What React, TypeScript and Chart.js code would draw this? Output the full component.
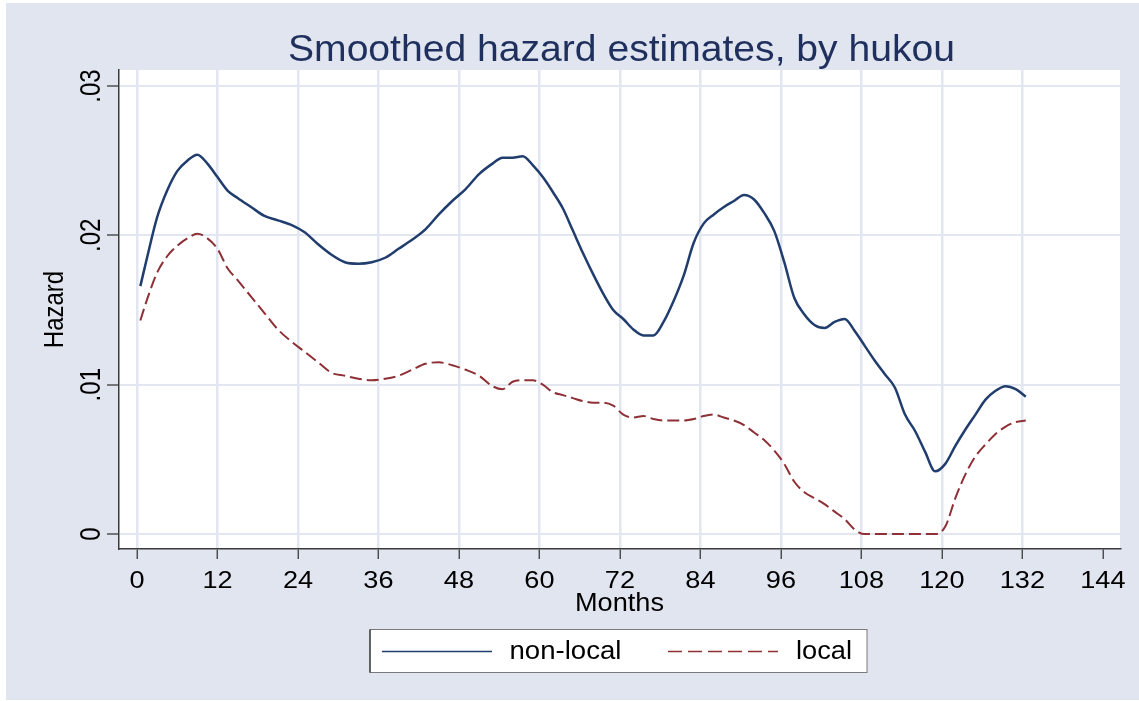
import React, { useEffect, useRef } from "react";
import { Chart, registerables } from "chart.js";

Chart.register(...registerables);

// ---------- data ----------
const months = [
  0.5, 1.5, 3, 4.5, 6, 7.5, 9, 10.5, 12, 13.5,
  15, 17, 19, 21, 23, 25, 27, 29, 31, 33,
  35, 37, 39, 41, 43, 45, 47, 49, 51, 53,
  54.5, 56, 57.5, 59, 60.5, 62, 63.5, 65, 66.5, 68,
  69.5, 71, 72.5, 74, 75.5, 77, 78.5, 80, 81.5, 83,
  84.5, 86, 87.5, 89, 90.5, 92, 93.5, 95, 96.5, 98,
  99.5, 101, 102.5, 104, 105.5, 107, 108.5, 110, 111.5, 113,
  114.5, 116, 117.5, 119, 120.5, 122, 123.5, 125, 126.5, 128,
  129.5, 131, 132.5,
];

const nonLocal = [
  0.0166, 0.0185, 0.0212, 0.0230, 0.0243, 0.0250, 0.0254, 0.0248, 0.0239, 0.0230,
  0.0225, 0.0219, 0.0213, 0.0210, 0.0207, 0.0202, 0.0194, 0.0187, 0.0182, 0.0181,
  0.0182, 0.0185, 0.0191, 0.0197, 0.0204, 0.0214, 0.0223, 0.0231, 0.0241, 0.0248,
  0.0252, 0.0252, 0.0253, 0.0247, 0.0239, 0.0229, 0.0218, 0.0203, 0.0188, 0.0174,
  0.0161, 0.0150, 0.0144, 0.0137, 0.0133, 0.0133, 0.0142, 0.0156, 0.0173, 0.0195,
  0.0208, 0.0214, 0.0219, 0.0223, 0.0227, 0.0224, 0.0215, 0.0203, 0.0182, 0.0158,
  0.0147, 0.0140, 0.0138, 0.0142, 0.0144, 0.0136, 0.0126, 0.0116, 0.0107, 0.0098,
  0.0080, 0.0069, 0.0055, 0.0042, 0.0047, 0.0059, 0.0070, 0.0080, 0.0090, 0.0096,
  0.0099, 0.0097, 0.0092,
];

const local = [
  0.0143, 0.0157, 0.0175, 0.0186, 0.0193, 0.0198, 0.0201, 0.0198, 0.0191, 0.0178,
  0.0170, 0.0159, 0.0148, 0.0137, 0.0129, 0.0122, 0.0115, 0.0108, 0.0106, 0.0104,
  0.0103, 0.0104, 0.0106, 0.0110, 0.0114, 0.0115, 0.0113, 0.0110, 0.0106, 0.0099,
  0.0097, 0.0102, 0.0103, 0.0103, 0.0100, 0.0095, 0.0093, 0.0091, 0.0089, 0.0088,
  0.0088, 0.0086, 0.0080, 0.0078, 0.0079, 0.0077, 0.0076, 0.0076, 0.0076, 0.0077,
  0.0079, 0.0080, 0.0078, 0.0076, 0.0073, 0.0068, 0.0063, 0.0056, 0.0047, 0.0035,
  0.0028, 0.0024, 0.0020, 0.0015, 0.0010, 0.0003, 0, 0, 0, 0,
  0, 0, 0, 0, 0.0005, 0.0024, 0.0040, 0.0052, 0.0060, 0.0067,
  0.0072, 0.0075, 0.0076,
];

const xTicks = [0, 12, 24, 36, 48, 60, 72, 84, 96, 108, 120, 132, 144];
const xTickLabels = ["0", "12", "24", "36", "48", "60", "72", "84", "96", "108", "120", "132", "144"];
const yTicks = [0, 0.01, 0.02, 0.03];
const yTickLabels = ["0", ".01", ".02", ".03"];
const seriesNames = ["non-local", "local"];
const titleText = "Smoothed hazard estimates, by hukou";
const xTitle = "Months";
const yTitle = "Hazard";

// ---------- style ----------
const FONT = "'Liberation Sans', Arial, sans-serif";
const NAVY = "#203d6d";
const MAROON = "#8e3036";
const BG = "#e0e5ef";
const GRID = "#e2e6f0";
const AXIS = "#3a3a3a";
const TITLE_COLOR = "#1f305e";
const W = 1139;
const H = 701;

type TextOpts = { sx?: number; sy?: number; fitW?: number; rot?: boolean; align?: CanvasTextAlign };

function drawText(ctx: CanvasRenderingContext2D, s: string, x: number, y: number, size: number, color: string, o: TextOpts = {}) {
  ctx.save();
  ctx.font = `${size}px ${FONT}`;
  ctx.fillStyle = color;
  ctx.textAlign = o.align || "center";
  ctx.textBaseline = "alphabetic";
  ctx.translate(x, y);
  if (o.rot) ctx.rotate(-Math.PI / 2);
  let sx = o.sx ?? 1;
  if (o.fitW) sx = o.fitW / ctx.measureText(s).width;
  ctx.scale(sx, o.sy ?? 1);
  ctx.fillText(s, 0, 0);
  ctx.restore();
}

const decor = {
  id: "decor",
  beforeDraw(chart: any) {
    const ctx: CanvasRenderingContext2D = chart.ctx;
    const { left, top, right, bottom } = chart.chartArea;
    ctx.save();
    ctx.fillStyle = "#ffffff";
    ctx.fillRect(0, 0, chart.width, chart.height);
    ctx.fillStyle = BG;
    ctx.fillRect(6, 3, chart.width - 6, chart.height - 4);
    ctx.fillStyle = "#ffffff";
    ctx.fillRect(left, top, right - left, bottom - top);
    ctx.restore();
  },
  afterDraw(chart: any) {
    const ctx: CanvasRenderingContext2D = chart.ctx;
    const xs = chart.scales.x;
    const ys = chart.scales.y;
    const area = chart.chartArea;

    drawText(ctx, titleText, 621.5, 60.5, 37, TITLE_COLOR, { fitW: 667 });

    xTicks.forEach((v, i) => {
      drawText(ctx, xTickLabels[i], xs.getPixelForValue(v), 587.5, 24, "#000", { sx: 1.13 });
    });
    yTicks.forEach((v, i) => {
      drawText(ctx, yTickLabels[i], 100, ys.getPixelForValue(v), 24, "#000", { rot: true, sy: 1.2 });
    });

    drawText(ctx, xTitle, 619.5, 611, 25, "#000", { fitW: 89 });
    drawText(ctx, yTitle, 63.3, (area.top + area.bottom) / 2, 24, "#000", { rot: true, sy: 1.15 });

    // legend
    ctx.save();
    ctx.fillStyle = "#ffffff";
    ctx.fillRect(370, 629.5, 497, 43);
    ctx.strokeStyle = "#7a7a7a";
    ctx.lineWidth = 1;
    ctx.strokeRect(370, 629.5, 497, 43);
    ctx.strokeStyle = "#111";
    ctx.beginPath();
    ctx.moveTo(370, 629.5);
    ctx.lineTo(370, 672.5);
    ctx.stroke();

    ctx.strokeStyle = NAVY;
    ctx.lineWidth = 1.3;
    ctx.beginPath();
    ctx.moveTo(382, 651.5);
    ctx.lineTo(492, 651.5);
    ctx.stroke();

    ctx.strokeStyle = MAROON;
    ctx.setLineDash([14, 6]);
    ctx.beginPath();
    ctx.moveTo(668, 651.5);
    ctx.lineTo(778, 651.5);
    ctx.stroke();
    ctx.restore();

    drawText(ctx, seriesNames[0], 565.5, 659, 25, "#000", { fitW: 112 });
    drawText(ctx, seriesNames[1], 824, 659, 25, "#000", { fitW: 56 });
  },
};

export default function App() {
  const ref = useRef<HTMLCanvasElement | null>(null);

  useEffect(() => {
    if (!ref.current) return;
    const chart = new Chart(ref.current, {
      type: "line",
      data: {
        datasets: [
          {
            label: seriesNames[0],
            data: months.map((m, i) => ({ x: m, y: nonLocal[i] })),
            borderColor: NAVY,
            borderWidth: 2.5,
            pointRadius: 0,
            fill: false,
            cubicInterpolationMode: "monotone",
          },
          {
            label: seriesNames[1],
            data: months.map((m, i) => ({ x: m, y: local[i] })),
            borderColor: MAROON,
            borderWidth: 2,
            borderDash: [12, 5],
            pointRadius: 0,
            fill: false,
            cubicInterpolationMode: "monotone",
          },
        ],
      },
      options: {
        responsive: false,
        animation: false,
        devicePixelRatio: 1,
        events: [],
        layout: { padding: { top: 70, right: 19, bottom: 0, left: 0 } },
        plugins: {
          legend: { display: false },
          title: { display: false },
          tooltip: { enabled: false },
        },
        scales: {
          x: {
            type: "linear",
            min: -2.68,
            max: 146.55,
            afterBuildTicks: (s: any) => {
              s.ticks = xTicks.map((v) => ({ value: v }));
            },
            afterFit: (s: any) => {
              s.height = 152;
            },
            ticks: { display: false },
            grid: {
              color: (c: any) => (c.tick && c.tick.value === 144 ? "rgba(0,0,0,0)" : GRID),
              lineWidth: 2.5,
              tickColor: AXIS,
              tickWidth: 1.3,
              tickLength: 10,
              drawTicks: true,
            },
            border: { display: true, color: AXIS, width: 1.5 },
          },
          y: {
            type: "linear",
            min: -0.001,
            max: 0.03107,
            afterBuildTicks: (s: any) => {
              s.ticks = yTicks.map((v) => ({ value: v }));
            },
            afterFit: (s: any) => {
              s.width = 119;
            },
            ticks: { display: false },
            grid: {
              color: GRID,
              lineWidth: 2,
              tickColor: AXIS,
              tickWidth: 1.3,
              tickLength: 12,
              drawTicks: true,
            },
            border: { display: true, color: AXIS, width: 1.5 },
          },
        },
      } as any,
      plugins: [decor],
    });
    return () => chart.destroy();
  }, []);

  return (
    <canvas
      ref={ref}
      width={W}
      height={H}
      style={{ position: "absolute", left: 0, top: 0, width: W, height: H }}
    />
  );
}
